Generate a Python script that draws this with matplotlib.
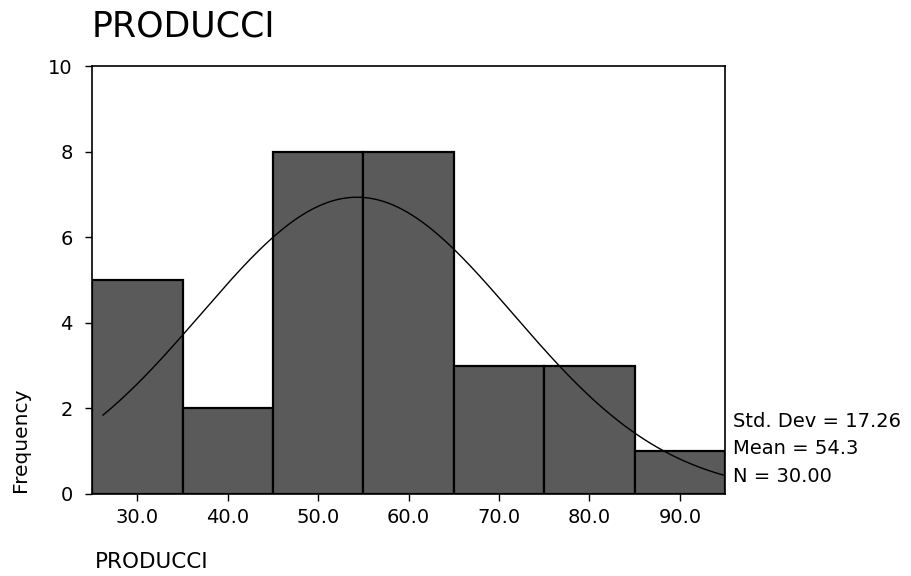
import numpy as np
import matplotlib
matplotlib.use("Agg")
import matplotlib.pyplot as plt

plt.rcParams["font.family"] = ["DejaVu Sans"]

# Histogram bins (class edges) and counts
bin_left = [25, 35, 45, 55, 65, 75, 85]
bin_width = 10
counts = [5, 2, 8, 8, 3, 3, 1]

# Summary statistics printed beside the chart
std_dev = 17.26
mean = 54.3
n = 30

x_ticks = [30.0, 40.0, 50.0, 60.0, 70.0, 80.0, 90.0]
y_ticks = [0, 2, 4, 6, 8, 10]

fig = plt.figure(figsize=(9.12, 5.76), dpi=100)
ax = fig.add_axes([0.101, 0.1424, 0.694, 0.743])

ax.bar(bin_left, counts, width=bin_width, align="edge",
       color="#5a5a5a", edgecolor="black", linewidth=1.6, zorder=2)

# fitted normal curve from the printed mean / std dev
xs = np.linspace(26.2, 95, 300)
ys = n * bin_width / (std_dev * np.sqrt(2 * np.pi)) * np.exp(-0.5 * ((xs - mean) / std_dev) ** 2)
ax.plot(xs, ys, color="black", lw=1.0, zorder=3)

ax.set_xlim(25, 95)
ax.set_ylim(0, 10)
ax.set_xticks(x_ticks)
ax.set_xticklabels([f"{v:.1f}" for v in x_ticks], fontsize=14)
ax.set_yticks(y_ticks)
ax.set_yticklabels([str(v) for v in y_ticks], fontsize=14)
ax.tick_params(axis="x", direction="out", length=5, width=1, pad=5)
ax.tick_params(axis="y", direction="out", length=5, width=1, pad=9)
for sp in ax.spines.values():
    sp.set_linewidth(1.2)

fig.text(0.101, 0.936, "PRODUCCI", fontsize=25, ha="left", va="baseline")
fig.text(0.104, 0.014, "PRODUCCI", fontsize=15.5, ha="left", va="baseline")
fig.text(0.022, 0.236, "Frequency", fontsize=14.5, rotation=90, ha="center", va="center")

fig.text(0.804, 0.259, f"Std. Dev = {std_dev:.2f}", fontsize=14, ha="left", va="baseline")
fig.text(0.804, 0.212, f"Mean = {mean:.1f}", fontsize=14, ha="left", va="baseline")
fig.text(0.804, 0.163, f"N = {n:.2f}", fontsize=14, ha="left", va="baseline")

fig.savefig("out.png", dpi=100)
